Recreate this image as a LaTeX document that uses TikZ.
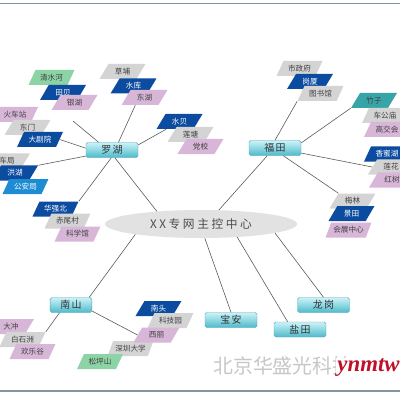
\documentclass[tikz,border=0pt]{standalone}
\usepackage{fontspec}
\setmainfont{Noto Sans CJK SC}
\newfontfamily\hubfont[LetterSpace=22]{Noto Sans CJK SC}
\newfontfamily\distfont[LetterSpace=12]{Noto Sans CJK SC}
\newfontfamily\markfont{Liberation Serif}
\usetikzlibrary{shapes.geometric}

\definecolor{dblue}{RGB}{12,76,160}
\definecolor{mblue}{RGB}{30,140,210}
\definecolor{sgray}{RGB}{212,212,212}
\definecolor{spink}{RGB}{215,182,215}
\definecolor{sgreen}{RGB}{140,212,165}
\definecolor{steal}{RGB}{55,165,168}
\definecolor{disttop}{RGB}{205,242,247}
\definecolor{distmid}{RGB}{140,215,226}
\definecolor{distbot}{RGB}{80,185,202}
\definecolor{distline}{RGB}{80,168,185}
\definecolor{hubgray}{RGB}{226,226,226}
\definecolor{rulegray}{RGB}{130,150,162}
\definecolor{wmred}{RGB}{190,16,40}

\begin{document}
\begin{tikzpicture}[
  x=0.03cm, y=-0.03cm,
  district/.style={draw=distline, rounded corners=1.5pt, top color=disttop,
    bottom color=distbot, middle color=distmid, minimum width=1.56cm,
    minimum height=0.45cm, inner sep=0pt, text=black!80,
    font=\distfont\fontsize{8.5}{9}\selectfont},
  spot/.style={trapezium, trapezium left angle=55, trapezium right angle=125,
    trapezium stretches=true, fill=#1, minimum width=1.38cm,
    minimum height=0.45cm, inner sep=0pt,
    text=black!75, font=\fontsize{6.5}{7}\selectfont},
  dspot/.style={spot=#1, text=white},
  link/.style={draw=black!65, line width=0.5pt},
  rule/.style={draw=rulegray, line width=1.2pt}
]
  \fill[white] (0,0) rectangle (400,400);
  \useasboundingbox (0,0) rectangle (400,400);
  \draw[rule] (0,3.5) -- (400,3.5);
  \draw[rule] (0,391) -- (400,391);

  % hub and districts
  \node[ellipse, fill=hubgray, minimum width=5.76cm, minimum height=0.84cm,
    inner sep=0pt, text=black!70] (ctr) at (201,224)
    {\hubfont\fontsize{10}{11}\selectfont XX专网主控中心};
  \node[district] (lh) at (112,150) {罗湖};
  \node[district] (ft) at (275,148) {福田};
  \node[district, minimum width=1.25cm] (ns) at (71,305) {南山};
  \node[district] (ba) at (231,320) {宝安};
  \node[district] (yt) at (300,329.5) {盐田};
  \node[district] (lg) at (323.5,305) {龙岗};

  % 罗湖
  \node[spot=sgreen] (qsh) at (51.5,77.5) {清水河};
  \node[dspot=dblue] (tb) at (63,92.5) {田贝};
  \node[spot=spink] (yh) at (74.5,102.5) {银湖};
  \coordinate (yhend) at (73,121);

  \node[spot=spink] (hcz) at (15,114.5) {火车站};
  \node[spot=sgray] (dm) at (27.5,127.5) {东门};
  \node[dspot=dblue] (djy) at (40,139.5) {大剧院};

  \node[spot=sgray] (cj) at (7,161) {车局};
  \node[dspot=dblue] (hh) at (15,173) {洪湖};
  \node[dspot=mblue] (gaj) at (25.5,186.5) {公安局};

  \node[dspot=dblue] (hqb) at (55.5,209) {华强北};
  \node[spot=sgray] (cwc) at (67.5,221) {赤尾村};
  \node[spot=spink] (kxg) at (77.5,234) {科学馆};

  \node[spot=sgray] (cp) at (122.5,71.5) {草埔};
  \node[dspot=dblue] (sk) at (133.5,86) {水库};
  \node[spot=spink] (dh) at (144.5,97.5) {东湖};

  \node[dspot=dblue] (sb) at (179.5,121.5) {水贝};
  \node[spot=sgray] (lt) at (190.5,134.5) {莲塘};
  \node[spot=spink] (dx) at (200.5,146.5) {党校};

  % 福田
  \node[spot=sgray] (szf) at (299.5,68.5) {市政府};
  \node[dspot=dblue] (gs) at (310,81.5) {岗厦};
  \node[spot=sgray] (tsg) at (320.5,93.5) {图书馆};

  \node[spot=steal] (zz) at (374,100.5) {竹子};
  \node[spot=sgray] (cgm) at (385,115.5) {车公庙};
  \node[spot=spink] (gjh) at (387,129.5) {高交会};

  \node[dspot=dblue] (xmh) at (387,154) {香蜜湖};
  \node[spot=sgray] (lhua) at (391,167) {莲花};
  \node[spot=spink] (hs) at (392,180) {红树};

  \node[spot=sgray] (ml) at (352.5,201) {梅林};
  \node[dspot=dblue] (jt) at (351.5,213.5) {景田};
  \node[spot=spink] (hzzx) at (348.5,230) {会展中心};

  % 南山
  \node[spot=spink] (dc) at (11,326.5) {大冲};
  \node[spot=sgray] (bsz) at (22.5,339.5) {白石洲};
  \node[spot=spink] (hlg) at (32.5,351.5) {欢乐谷};

  \node[dspot=dblue] (nt) at (158.5,308.5) {南头};
  \node[spot=sgray] (kjy) at (170.5,320.5) {科技园};
  \node[spot=sgray] (szdx) at (130.5,348.5) {深圳大学};
  \node[spot=spink] (xl) at (156.5,335) {西丽};
  \node[spot=sgreen] (spsh) at (100,361.5) {松坪山};

  % links
  \draw[link] (lh.-70) -- (ctr.164);
  \draw[link] (ft.-135) -- (ctr.38);
  \draw[link] (ns.23) -- (ctr.189);
  \draw[link] (ba.north) -- (ctr.-75);
  \draw[link] (yt.148) -- (ctr.-20);
  \draw[link] (lg.north) -- (ctr.-7);

  \draw[link] (lh.-95) -- (hqb.top right corner);
  \draw[link] (lh.193) -- (hh.top right corner);
  \draw[link] (lh.176) -- (djy.east);
  \draw[link] (yhend) -- (lh.150);
  \draw[link] (dh.-140) -- (lh.50);
  \draw[link] (sb.-150) -- (lh.11);

  \draw[link] (tsg.bottom left corner) -- (ft.north);
  \draw[link] (zz.bottom left corner) -- (ft.11);
  \draw[link] (lhua.west) -- (ft.-11);
  \draw[link] (ml.top left corner) -- (ft.-43);

  \draw[link] (ns.-146) -- (bsz.top right corner);
  \draw[link] (ns.-16) -- (xl.west);

  % watermark
  \node[anchor=west, inner sep=0pt, text=black!22,
    font=\fontsize{17}{18}\selectfont] (wm) at (213,366) {北京华盛光科技};
  \node[anchor=west, inner sep=1pt, fill=white, text=wmred,
    font=\markfont\bfseries\itshape\fontsize{19.5}{20}\selectfont] (wmr) at (336,368) {ynmtw};
\end{tikzpicture}
\end{document}
